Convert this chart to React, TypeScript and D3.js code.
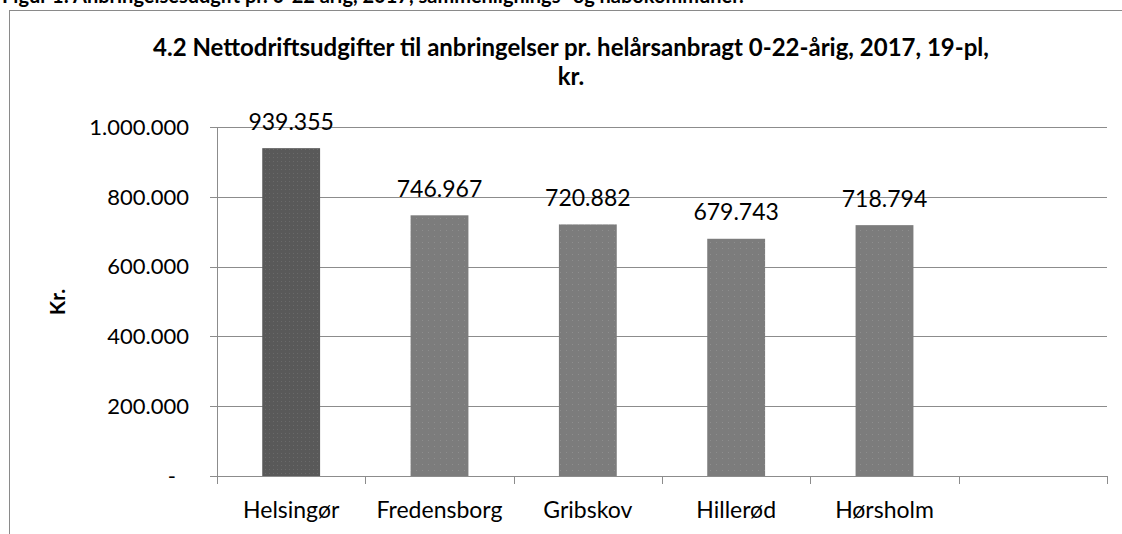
import React from "react";
import * as d3 from "d3";

// values
const municipalities = ["Helsingør", "Fredensborg", "Gribskov", "Hillerød", "Hørsholm", ""];
const spending = [939355, 746967, 720882, 679743, 718794, null];
const yTicks = [0, 200000, 400000, 600000, 800000, 1000000];

const headerText = "Figur 1: Anbringelsesudgift pr. 0-22 årig, 2017, sammenlignings- og nabokommuner.";
const titleLines = [
    "4.2 Nettodriftsudgifter til anbringelser pr. helårsanbragt 0-22-årig, 2017, 19-pl,",
    "kr."
];
const yTitle = "Kr.";

const W = 1122;
const H = 534;
const margin = {left: 217, right: 15, top: 127, bottom: 58};
const FONT = "Lato, 'Open Sans', sans-serif";

const fmt = (v: number) => v === 0 ? "-" : d3.format(",")(v).replace(/,/g, ".");

export default function App()
{
    const xScale = d3.scaleBand<string>()
        .domain(municipalities.map((m, i) => i + ":" + m))
        .range([margin.left, W - margin.right])
        .paddingInner(0)
        .paddingOuter(0);

    const yScale = d3.scaleLinear()
        .domain([0, 1000000])
        .range([H - margin.bottom, margin.top]);

    const bw = xScale.bandwidth();
    const barW = bw * 0.39;
    const keys = xScale.domain();
    const y0 = yScale(0);

    return (
        <svg width={W} height={H} style={{position: "absolute", left: 0, top: 0, background: "#fff"}}>
            <defs>
                <pattern id="dotsDark" width="4" height="4" patternUnits="userSpaceOnUse">
                    <rect width="4" height="4" fill="#595959"/>
                    <rect x="1" y="1" width="1" height="1" fill="#6a6a6a"/>
                </pattern>
                <pattern id="dotsLight" width="6" height="6" patternUnits="userSpaceOnUse">
                    <rect width="6" height="6" fill="#7c7c7c"/>
                    <rect x="2" y="2" width="1" height="1" fill="#8e8e8e"/>
                </pattern>
            </defs>

            {/* clipped figure caption above the chart */}
            <text x={2} y={3} fontFamily={FONT} fontWeight="bold" fontSize={20} fill="#000">{headerText}</text>

            {/* chart frame */}
            <rect x={9.5} y={10.5} width={W + 20} height={H + 20} fill="#fff" stroke="#8a8a8a" strokeWidth={1}/>

            {/* title */}
            {titleLines.map((t, i) => (
                <text key={i} x={571} y={56 + i * 29} textAnchor="middle" fontFamily={FONT}
                      fontWeight="bold" fontSize={24} fill="#000">{t}</text>
            ))}

            {/* gridlines */}
            {yTicks.map(t => (
                <line key={"g" + t} x1={margin.left - 7} x2={W - margin.right}
                      y1={Math.round(yScale(t)) + 0.5} y2={Math.round(yScale(t)) + 0.5}
                      stroke="#8c8c8c" strokeWidth={1}/>
            ))}

            {/* y axis */}
            <line x1={margin.left + 0.5} x2={margin.left + 0.5} y1={yScale(1000000)} y2={y0}
                  stroke="#8c8c8c" strokeWidth={1}/>
            {yTicks.map(t => (
                <text key={"yl" + t} x={t === 0 ? 176 : 189} y={yScale(t)} dy="0.35em"
                      textAnchor="end" fontFamily={FONT} fontSize={22} fill="#000">{fmt(t)}</text>
            ))}

            {/* x axis ticks */}
            {d3.range(keys.length + 1).map(i => {
                const x = Math.round(margin.left + i * bw) + 0.5;
                return <line key={"xt" + i} x1={x} x2={x} y1={y0} y2={y0 + 8} stroke="#8c8c8c" strokeWidth={1}/>;
            })}

            {/* bars */}
            {keys.map((k, i) => {
                const v = spending[i];
                if (v == null) return null;
                const cx = (xScale(k) as number) + bw / 2;
                return (
                    <g key={"b" + i}>
                        <rect x={cx - barW / 2} y={yScale(v)} width={barW} height={y0 - yScale(v)}
                              fill={i === 0 ? "url(#dotsDark)" : "url(#dotsLight)"}/>
                        <text x={cx} y={yScale(v) - 18.5} textAnchor="middle" fontFamily={FONT}
                              fontSize={23} fill="#000">{fmt(v)}</text>
                    </g>
                );
            })}

            {/* category labels */}
            {keys.map((k, i) => (
                <text key={"xl" + i} x={(xScale(k) as number) + bw / 2} y={518} textAnchor="middle"
                      fontFamily={FONT} fontSize={23} fill="#000">{municipalities[i]}</text>
            ))}

            {/* y axis title */}
            <text transform={`translate(65, 302) rotate(-90)`} textAnchor="middle" fontFamily={FONT}
                  fontWeight="bold" fontSize={21} fill="#000">{yTitle}</text>
        </svg>
    );
}
